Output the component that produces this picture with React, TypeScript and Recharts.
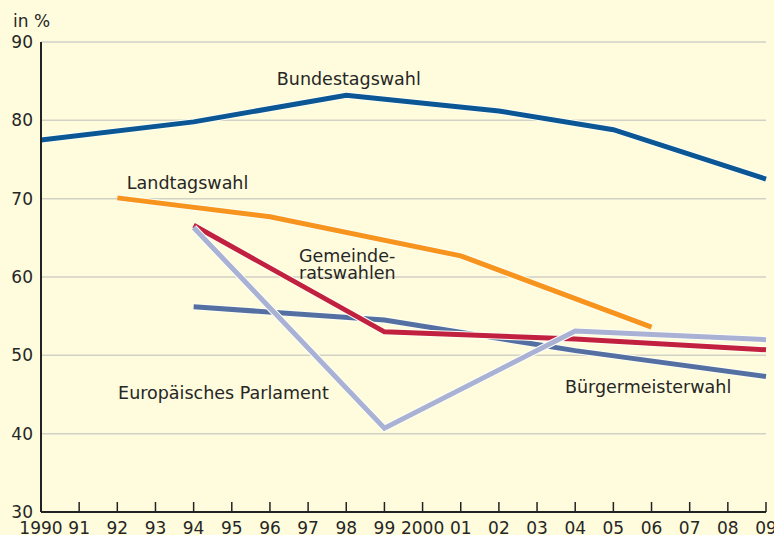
import React from "react";
import {
  LineChart,
  Line,
  XAxis,
  YAxis,
  CartesianGrid,
  ReferenceDot,
  Label,
} from "recharts";

// Wahlbeteiligung in %
const bundestagYears = [1990, 1994, 1998, 2002, 2005, 2009];
const bundestagValues = [77.5, 79.8, 83.2, 81.2, 78.8, 72.5];

const landtagYears = [1992, 1996, 2001, 2006];
const landtagValues = [70.1, 67.7, 62.7, 53.6];

const gemeinderatYears = [1994, 1999, 2004, 2009];
const gemeinderatValues = [66.6, 53.0, 52.1, 50.7];

const europaYears = [1994, 1999, 2004, 2009];
const europaValues = [56.2, 54.5, 50.6, 47.3];

const buergermeisterYears = [1994, 1999, 2004, 2009];
const buergermeisterValues = [66.3, 40.7, 53.1, 52.0];

const xTicks = [
  1990, 1991, 1992, 1993, 1994, 1995, 1996, 1997, 1998, 1999,
  2000, 2001, 2002, 2003, 2004, 2005, 2006, 2007, 2008, 2009,
];
const xTickLabels = [
  "1990", "91", "92", "93", "94", "95", "96", "97", "98", "99",
  "2000", "01", "02", "03", "04", "05", "06", "07", "08", "09",
];
const yTicks = [30, 40, 50, 60, 70, 80, 90];

// text labels anchored in data units (left edge, baseline)
const annotations = [
  { text: "Bundestagswahl", year: 1996.18, value: 84.5 },
  { text: "Landtagswahl", year: 1992.25, value: 71.2 },
  { text: "Gemeinde-", year: 1996.76, value: 61.9 },
  { text: "ratswahlen", year: 1996.76, value: 59.75 },
  { text: "Europäisches Parlament", year: 1992.02, value: 44.4 },
  { text: "Bürgermeisterwahl", year: 2003.73, value: 45.2 },
];

const BG = "#FEFCDC";
const FONT = "'DejaVu Sans', sans-serif";
const TEXT = "#262626";
const AXIS = "#222222";

const seriesDefs = [
  { key: "europa", years: europaYears, values: europaValues, color: "#5470A3" },
  { key: "gemeinderat", years: gemeinderatYears, values: gemeinderatValues, color: "#C2203F" },
  { key: "landtag", years: landtagYears, values: landtagValues, color: "#F7941D" },
  { key: "bundestag", years: bundestagYears, values: bundestagValues, color: "#0B5694" },
  { key: "buergermeister", years: buergermeisterYears, values: buergermeisterValues, color: "#A9B1D5" },
];

const allYears = Array.from(new Set(seriesDefs.flatMap((s) => s.years))).sort((a, b) => a - b);
const rows = allYears.map((year) => {
  const row: Record<string, number | null> = { year };
  seriesDefs.forEach((s) => {
    const i = s.years.indexOf(year);
    row[s.key] = i >= 0 ? s.values[i] : null;
  });
  return row;
});

const XTick = (props: any) => {
  const { x, y, payload } = props;
  const label = xTickLabels[xTicks.indexOf(payload.value)];
  return (
    <g>
      <line x1={x} y1={y} x2={x} y2={y - 10} stroke={AXIS} strokeWidth={1.5} />
      <text x={x} y={y + 22} textAnchor="middle" fontFamily={FONT} fontSize={17} fill={TEXT}>
        {label}
      </text>
    </g>
  );
};

const annotationContent = (text: string) => (props: any) => {
  const { viewBox } = props;
  return (
    <text x={viewBox.x} y={viewBox.y} fontFamily={FONT} fontSize={17.5} fill={TEXT}>
      {text}
    </text>
  );
};

export default function App() {
  return (
    <div style={{ width: 774, height: 535, background: BG, overflow: "hidden" }}>
      <style>{`body{margin:0}`}</style>
      <LineChart
        width={774}
        height={535}
        data={rows}
        margin={{ top: 42, right: 8, left: 0, bottom: 0 }}
      >
        <CartesianGrid horizontal vertical={false} stroke="#D2D1C6" strokeWidth={1.5} />
        <XAxis
          dataKey="year"
          type="number"
          domain={[1990, 2009]}
          ticks={xTicks}
          interval={0}
          height={23}
          tickSize={0}
          tickMargin={0}
          tickLine={false}
          axisLine={{ stroke: AXIS, strokeWidth: 2 }}
          tick={<XTick />}
        />
        <YAxis
          type="number"
          domain={[30, 90]}
          ticks={yTicks}
          width={41}
          tickSize={0}
          tickMargin={8}
          tickLine={false}
          axisLine={{ stroke: AXIS, strokeWidth: 2 }}
          tick={{ fontFamily: FONT, fontSize: 17, fill: TEXT }}
        >
          <Label
            content={() => (
              <text x={13} y={27} fontFamily={FONT} fontSize={17} fill={TEXT}>
                in %
              </text>
            )}
          />
        </YAxis>
        {seriesDefs.map((s) => [
          <Line
            key={s.key + "-halo"}
            type="linear"
            dataKey={s.key}
            stroke="#FFFFF2"
            strokeWidth={7}
            dot={false}
            activeDot={false}
            connectNulls
            isAnimationActive={false}
          />,
          <Line
            key={s.key}
            type="linear"
            dataKey={s.key}
            stroke={s.color}
            strokeWidth={5}
            strokeLinejoin="miter"
            dot={false}
            activeDot={false}
            connectNulls
            isAnimationActive={false}
          />,
        ])}
        {annotations.map((a) => (
          <ReferenceDot
            key={a.text}
            x={a.year}
            y={a.value}
            r={0}
            fill="none"
            stroke="none"
            label={annotationContent(a.text)}
          />
        ))}
      </LineChart>
    </div>
  );
}
